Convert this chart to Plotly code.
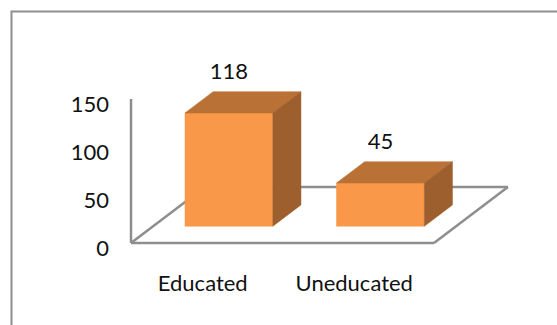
import plotly.graph_objects as go

# ---- data ----
categories = ["Educated", "Uneducated"]
values = [118, 45]
y_ticks = [0, 50, 100, 150]

# ---- 3D oblique projection constants (style / layout) ----
DX = 0.488      # x-units shift for full floor depth
DY = 58.3       # value-units shift for full floor depth
BAR_W = 0.58    # bar width in category units
D0, D1 = 0.30, 0.68  # bar depth span (fraction of floor depth)

FRONT = "#F89848"
TOP = "#BA7135"
SIDE = "#9D5F2D"
AXIS = "#8E8E8E"
FONT = "Lato"


def proj(x, v, d):
    return x + d * DX, v + d * DY


def poly(pts):
    xs = [p[0] for p in pts] + [pts[0][0]]
    ys = [p[1] for p in pts] + [pts[0][1]]
    return xs, ys


fig = go.Figure()

n = len(categories)
xl, xr = -0.5, n - 0.5
ymax = y_ticks[-1]

# floor lines
floor_lines = [
    [proj(xl, 0, 0), proj(xr, 0, 0)],
    [proj(xr, 0, 0), proj(xr, 0, 1)],
    [proj(xr, 0, 1), proj(xl, 0, 1)],
    [proj(xl, 0, 1), proj(xl, 0, 0)],
    [proj(xl, 0, 0), proj(xl, ymax, 0)],
]
for seg in floor_lines:
    fig.add_trace(go.Scatter(
        x=[p[0] for p in seg], y=[p[1] for p in seg], mode="lines",
        line=dict(color=AXIS, width=2.5), hoverinfo="skip", showlegend=False))

# bars
for i, v in enumerate(values):
    a, b = i - BAR_W / 2, i + BAR_W / 2
    faces = [
        ([proj(a, 0, D0), proj(b, 0, D0), proj(b, v, D0), proj(a, v, D0)], FRONT),
        ([proj(a, v, D0), proj(b, v, D0), proj(b, v, D1), proj(a, v, D1)], TOP),
        ([proj(b, 0, D0), proj(b, v, D0), proj(b, v, D1), proj(b, 0, D1)], SIDE),
    ]
    for pts, col in faces:
        xs, ys = poly(pts)
        fig.add_trace(go.Scatter(
            x=xs, y=ys, mode="lines", fill="toself", fillcolor=col,
            line=dict(color=col, width=0.5), hoverinfo="skip", showlegend=False))
    lx, ly = proj(i, v, D1)
    fig.add_trace(go.Scatter(
        x=[i + D0 * DX], y=[ly + 19], mode="text", text=[str(v)],
        textposition="middle center", textfont=dict(family=FONT, size=22, color="#111111"),
        hoverinfo="skip", showlegend=False, cliponaxis=False))

# chart border (top and left visible)
fig.add_shape(type="rect", xref="paper", yref="paper",
              x0=-0.2204, y0=-0.5, x1=1.2, y1=0.9566,
              line=dict(color=AXIS, width=2), fillcolor="rgba(0,0,0,0)", layer="above")

PX_X = 151.5
PX_Y = 0.96
L, B, T = 110, 60, 0
W, H = 557, 325
x_min = -0.5 - (131 - L) / PX_X
x_max = x_min + (W - L) / PX_X
y_min = -(H - B - 243) / PX_Y
y_max = y_min + (H - B - T) / PX_Y

fig.update_layout(
    width=W, height=H,
    margin=dict(l=L, r=0, t=T, b=B, pad=0),
    paper_bgcolor="white", plot_bgcolor="white",
    font=dict(family=FONT, size=22, color="#111111"),
    xaxis=dict(range=[x_min, x_max], tickvals=list(range(n)), ticktext=categories,
               showgrid=False, zeroline=False, showline=False, ticks="",
               ticklabelshift=-4, ticklabelstandoff=3, fixedrange=True),
    yaxis=dict(range=[y_min, y_max], tickvals=y_ticks, showgrid=False, zeroline=False,
               showline=False, ticks="", ticklabelshift=5, fixedrange=True),
    showlegend=False,
)

fig.write_html("out.html")
